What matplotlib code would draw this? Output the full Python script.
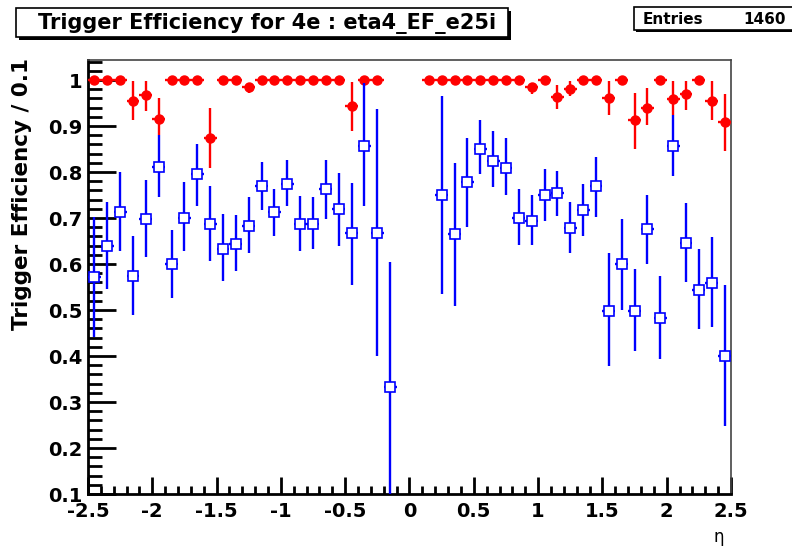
import numpy as np
import matplotlib
matplotlib.use('Agg')
import matplotlib.pyplot as plt
from matplotlib.patches import Rectangle

plt.rcParams['font.family'] = ['DejaVu Sans']

nan = np.nan
eta = [-2.45, -2.35, -2.25, -2.15, -2.05, -1.95, -1.85, -1.75, -1.65, -1.55,
       -1.45, -1.35, -1.25, -1.15, -1.05, -0.95, -0.85, -0.75, -0.65, -0.55,
       -0.45, -0.35, -0.25, -0.15, -0.05, 0.05, 0.15, 0.25, 0.35, 0.45,
       0.55, 0.65, 0.75, 0.85, 0.95, 1.05, 1.15, 1.25, 1.35, 1.45,
       1.55, 1.65, 1.75, 1.85, 1.95, 2.05, 2.15, 2.25, 2.35, 2.45]

# red: filled circles
red_val = [1, 1, 1, 0.955, 0.967, 0.915, 1, 1, 1, 0.873,
           1, 1, 0.985, 1, 1, 1, 1, 1, 1, 1,
           0.943, 1, 1, nan, nan, nan, 1, 1, 1, 1,
           1, 1, 1, 1, 0.984, 1, 0.964, 0.98, 1, 1,
           0.96, 1, 0.912, 0.94, 1, 0.958, 0.969, 1, 0.955, 0.908]
red_hi = [1, 1, 1, 0.998, 0.998, 0.96, 1, 1, 1, 0.94,
          1, 1, 0.993, 1, 1, 1, 1, 1, 1, 1,
          0.996, 1, 1, nan, nan, nan, 1, 1, 1, 1,
          1, 1, 1, 1, 0.993, 1, 0.989, 0.998, 1, 1,
          0.998, 1, 0.971, 0.982, 1, 0.998, 0.998, 1, 0.998, 0.969]
red_lo = [1, 1, 1, 0.913, 0.933, 0.88, 1, 1, 1, 0.808,
          1, 1, 0.972, 1, 1, 1, 1, 1, 1, 1,
          0.89, 1, 1, nan, nan, nan, 1, 1, 1, 1,
          1, 1, 1, 1, 0.97, 1, 0.938, 0.965, 1, 1,
          0.924, 1, 0.851, 0.902, 1, 0.924, 0.935, 1, 0.913, 0.846]

# blue: open squares
blue_val = [0.571, 0.64, 0.714, 0.574, 0.698, 0.811, 0.599, 0.70, 0.796, 0.686,
            0.632, 0.643, 0.683, 0.77, 0.712, 0.775, 0.688, 0.686, 0.762, 0.72,
            0.667, 0.857, 0.667, 0.333, nan, nan, nan, 0.75, 0.666, 0.778,
            0.851, 0.825, 0.809, 0.701, 0.693, 0.75, 0.755, 0.678, 0.717, 0.77,
            0.498, 0.60, 0.498, 0.676, 0.482, 0.857, 0.645, 0.543, 0.558, 0.40]
blue_hi = [0.703, 0.735, 0.80, 0.661, 0.783, 0.88, 0.674, 0.778, 0.861, 0.77,
           0.709, 0.707, 0.745, 0.822, 0.762, 0.826, 0.748, 0.745, 0.826, 0.798,
           0.777, 0.993, 0.938, 0.605, nan, nan, nan, 0.966, 0.82, 0.873,
           0.912, 0.889, 0.873, 0.762, 0.75, 0.806, 0.803, 0.734, 0.773, 0.833,
           0.625, 0.698, 0.589, 0.75, 0.574, 0.924, 0.732, 0.633, 0.658, 0.554]
blue_lo = [0.442, 0.545, 0.629, 0.489, 0.616, 0.746, 0.527, 0.629, 0.727, 0.607,
           0.562, 0.585, 0.625, 0.717, 0.661, 0.726, 0.629, 0.632, 0.697, 0.64,
           0.554, 0.727, 0.40, 0.0, nan, nan, nan, 0.535, 0.509, 0.68,
           0.795, 0.767, 0.749, 0.641, 0.641, 0.694, 0.705, 0.625, 0.661, 0.703,
           0.378, 0.501, 0.411, 0.601, 0.393, 0.792, 0.56, 0.459, 0.462, 0.248]

x = np.array(eta)
rv, rh, rl = np.array(red_val), np.array(red_hi), np.array(red_lo)
bv, bh, bl = np.array(blue_val), np.array(blue_hi), np.array(blue_lo)

fig = plt.figure(figsize=(7.92, 5.48), dpi=100)
ax = fig.add_axes([88/792, 54/548, 643/792, 434/548])

ax.errorbar(x, rv, yerr=[rv - rl, rh - rv], xerr=0.05, fmt='o', color='#ff0000',
            ms=6.5, elinewidth=1.7, capsize=0, zorder=3)
ax.errorbar(x, bv, yerr=[bv - bl, bh - bv], xerr=0.05, fmt='s', color='#0000ff',
            mfc='white', mec='#0000ff', mew=1.2, ms=7.2, elinewidth=1.7, capsize=0, zorder=4)

ax.set_xlim(-2.5, 2.5)
ax.set_ylim(0.1, 1.0435)
ax.set_xticks(np.arange(-2.5, 2.51, 0.5))
ax.set_xticks(np.arange(-2.5, 2.51, 0.1), minor=True)
ax.set_yticks(np.arange(0.1, 1.01, 0.1))
ax.set_yticks(np.arange(0.1, 1.041, 0.02), minor=True)
ax.set_xticklabels(['-2.5', '-2', '-1.5', '-1', '-0.5', '0', '0.5', '1', '1.5', '2', '2.5'])
ax.set_yticklabels(['0.1', '0.2', '0.3', '0.4', '0.5', '0.6', '0.7', '0.8', '0.9', '1'])
ax.tick_params(axis='both', which='both', direction='in', top=False, right=False,
               labelsize=14, width=2, color='black')
ax.tick_params(axis='y', which='major', length=20, pad=4)
ax.tick_params(axis='y', which='minor', length=10)
ax.tick_params(axis='x', which='major', length=12, pad=6)
ax.tick_params(axis='x', which='minor', length=6)
for lab in ax.get_xticklabels() + ax.get_yticklabels():
    lab.set_fontweight('bold')

for s in ['left', 'bottom']:
    ax.spines[s].set_linewidth(2)
for s in ['top', 'right']:
    ax.spines[s].set_linewidth(1.2)
    ax.spines[s].set_color('#444444')

ax.set_ylabel('Trigger Efficiency / 0.1', fontsize=15.5, fontweight='bold', loc='top')
ax.yaxis.set_label_coords(-0.087, 1.005)
fig.text(719/792, 1 - 537/548, 'η', fontsize=12, ha='center', va='center')

# title box with shadow
W, H = 792, 548
fig.patches.append(Rectangle((19/W, 1 - 40/H), 492/W, 29/H, transform=fig.transFigure,
                             facecolor='black', edgecolor='none', zorder=1))
fig.patches.append(Rectangle((16/W, 1 - 37/H), 492/W, 29/H, transform=fig.transFigure,
                             facecolor='white', edgecolor='black', lw=1.2, zorder=2))
fig.text(267/W, 1 - 23/H, 'Trigger Efficiency for 4e : eta4_EF_e25i', fontsize=15,
         fontweight='bold', ha='center', va='center', zorder=3)

# stats box
fig.patches.append(Rectangle((636/W, 1 - 32/H), 160/W, 23/H, transform=fig.transFigure,
                             facecolor='black', edgecolor='none', zorder=1))
fig.patches.append(Rectangle((634/W, 1 - 30/H), 160/W, 23/H, transform=fig.transFigure,
                             facecolor='white', edgecolor='black', lw=1.2, zorder=2))
fig.text(643/W, 1 - 19/H, 'Entries', fontsize=11, fontweight='bold', ha='left', va='center')
fig.text(786/W, 1 - 19/H, '1460', fontsize=11, fontweight='bold', ha='right', va='center')

fig.savefig('out.png', dpi=100)
